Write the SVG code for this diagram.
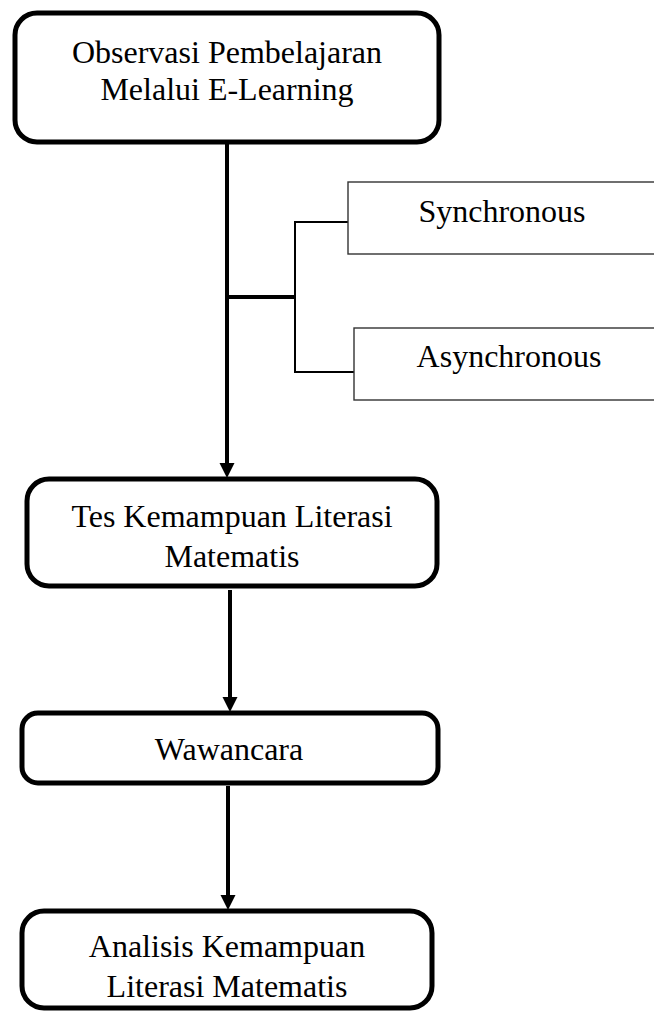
<svg xmlns="http://www.w3.org/2000/svg" width="654" height="1012" viewBox="0 0 654 1012">
<style>
.rbox{fill:#fff;stroke:#000;stroke-width:5}
.sbox{fill:#fff;stroke:#333;stroke-width:1.4}
.t{font-family:"Liberation Serif","Times New Roman",serif;font-size:32px;fill:#000;text-anchor:middle}
.thick{stroke:#000;stroke-width:4;fill:none}
.thin{stroke:#000;stroke-width:2;fill:none}
.head{fill:#000}
</style>
<g id="connectors">
<line class="thick" x1="227" y1="144" x2="227" y2="465"/>
<polygon class="head" points="219.5,463 234.5,463 227,478"/>
<line class="thick" x1="227" y1="297" x2="296" y2="297"/>
<line class="thin" x1="295" y1="222" x2="295" y2="372"/>
<line class="thin" x1="294" y1="222" x2="348" y2="222"/>
<line class="thin" x1="294" y1="372" x2="354" y2="372"/>
<line class="thick" x1="230" y1="590" x2="230" y2="699"/>
<polygon class="head" points="222.5,697 237.5,697 230,712"/>
<line class="thick" x1="228" y1="786" x2="228" y2="897"/>
<polygon class="head" points="220.5,895 235.5,895 228,910"/>
</g>
<g id="n1">
<rect class="rbox" x="15" y="13" width="424" height="129" rx="22"/>
<text class="t" x="227" y="63">Observasi Pembelajaran</text>
<text class="t" x="227" y="100">Melalui E-Learning</text>
</g>
<g id="n_sync">
<rect class="sbox" x="348" y="182" width="310" height="72"/>
<text class="t" x="502" y="222">Synchronous</text>
</g>
<g id="n_async">
<rect class="sbox" x="354" y="328" width="304" height="72"/>
<text class="t" x="509" y="367">Asynchronous</text>
</g>
<g id="n2">
<rect class="rbox" x="27" y="479" width="410" height="107" rx="22"/>
<text class="t" x="232" y="527">Tes Kemampuan Literasi</text>
<text class="t" x="232" y="567">Matematis</text>
</g>
<g id="n3">
<rect class="rbox" x="22" y="713" width="416" height="70" rx="16"/>
<text class="t" x="229" y="760">Wawancara</text>
</g>
<g id="n4">
<rect class="rbox" x="22" y="911" width="410" height="97" rx="22"/>
<text class="t" x="227" y="957">Analisis Kemampuan</text>
<text class="t" x="227" y="997">Literasi Matematis</text>
</g>
</svg>
